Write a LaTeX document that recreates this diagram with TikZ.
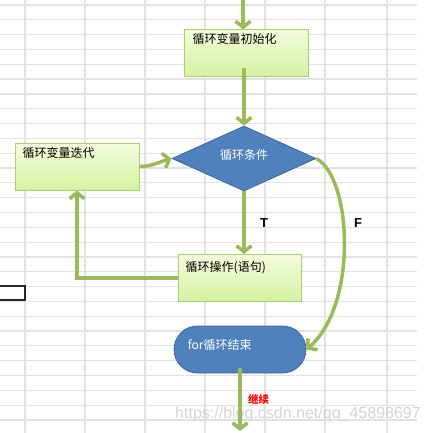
\documentclass[tikz,border=0pt]{standalone}
\usepackage{fontspec}
\setmainfont{Noto Sans CJK SC}
\newfontfamily\latinfont{Liberation Sans}
\usetikzlibrary{shapes.geometric,arrows.meta}
\definecolor{flowgreen}{HTML}{9BBB59}
\definecolor{boxedge}{HTML}{A9CF6F}
\definecolor{boxtop}{HTML}{F2FCDD}
\definecolor{boxbottom}{HTML}{D3F3A0}
\definecolor{flowblue}{HTML}{4F81BD}
\definecolor{flowedge}{HTML}{3B679C}
\definecolor{gridgray}{HTML}{E2E2E2}
\definecolor{markgray}{HTML}{D4D4D4}
\tikzset{
  stepbox/.style={rectangle, draw=boxedge, line width=1pt, top color=boxtop, bottom color=boxbottom,
    minimum width=124pt, minimum height=47pt, inner sep=0pt},
  boxtext/.style={anchor=north west, inner sep=0pt, font=\fontsize{12}{14}\selectfont},
  flow/.style={draw=flowgreen, line width=3.5pt, -{Straight Barb[length=6pt,width=15pt]}},
  gridline/.style={draw=gridgray, line width=1.2pt},
}
\begin{document}
\begin{tikzpicture}[x=1pt,y=-1pt]
\fill[white] (0,0) rectangle (430,433);
\useasboundingbox (0,0) rectangle (430,433);
\foreach \gx in {25,85,145,205,265,325,387}
  \draw[gridline] (\gx,0) -- (\gx,433);
\foreach \k [evaluate=\k as \gy using 5+14.82*\k] in {0,...,28}
  \draw[gridline] (0,\gy) -- (417,\gy);
\draw[line width=2.5pt, black!85] (0,286) -- (25,286) -- (25,300) -- (0,300);

\node[stepbox, label={[boxtext, xshift=9pt, yshift=-4pt]north west:循环变量初始化}] (init) at (246,53.5) {};
\node[stepbox, label={[boxtext, xshift=8pt, yshift=-5pt]north west:循环变量迭代}] (iter) at (77,166.5) {};
\node[stepbox, minimum width=123pt, label={[boxtext, xshift=8pt, yshift=-7pt]north west:循环操作(语句)}] (body) at (239.5,278) {};
\node[diamond, aspect=2.2, minimum width=144pt, minimum height=65pt, inner sep=0pt, draw=flowedge, line width=0.8pt, fill=flowblue,
  label={[text=white, font=\fontsize{12}{14}\selectfont, yshift=4pt]center:循环条件}] (cond) at (244,158.5) {};
\node[rectangle, rounded corners=23.5pt, minimum width=132pt, minimum height=47pt, draw=flowedge, line width=0.8pt, fill=flowblue,
  label={[boxtext, text=white, xshift=14pt, yshift=-14pt]north west:for循环结束}] (done) at (240,349.5) {};

\coordinate (start) at (243,0);
\coordinate (next) at (240,431);
\node[font=\latinfont\bfseries\fontsize{13}{15}\selectfont] (F) at (358,223) {F};
\node[text=markgray, font=\latinfont\fontsize{16}{18}\selectfont, inner sep=0pt] (mark) at (298,414) {https://blog.csdn.net/qq\_45898697};

\draw[flow] (start) -- (start |- init.north);
\draw[flow] ([yshift=9pt]init.south -| cond.north) -- (cond.north);
\draw[flow] (cond.south) -- (cond.south |- body.north)
  node[midway, right=11pt, text=black, font=\latinfont\bfseries\fontsize{13}{15}\selectfont] (T) {T};
\draw[flow] (body.west) -| (iter.south);
\draw[flow] (iter.east) to[out=0, in=195] (cond.west);
\draw[flow] (cond.east) .. controls (352,178) and (358,305) .. (done.east);
\draw[flow] ([yshift=5pt]done.south) -- (next)
  node[pos=0.5, right=3pt, text=red, font=\bfseries\fontsize{10.5}{12}\selectfont] (go) {继续};
\end{tikzpicture}
\end{document}
